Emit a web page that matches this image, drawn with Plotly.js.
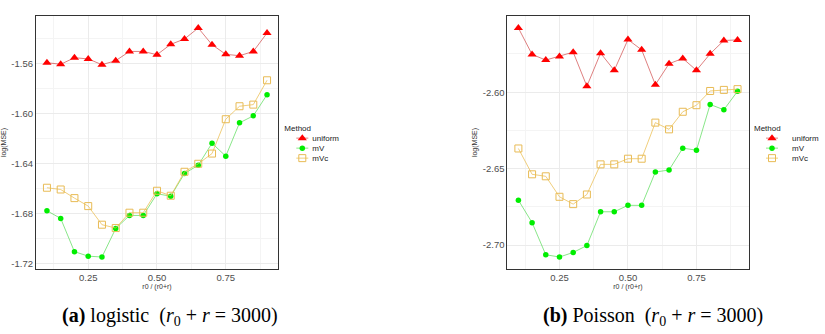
<!DOCTYPE html>
<html>
<head>
<meta charset="utf-8">
<script src="https://cdn.plot.ly/plotly-3.0.1.min.js"></script>
<style>
  body { margin: 0; background: #fff; }
  #plot { width: 825px; height: 334px; }
</style>
</head>
<body>
<div id="plot"></div>
<script>
// ratio r0 / (r0+r)
var ratio = [0.10, 0.15, 0.20, 0.25, 0.30, 0.35, 0.40, 0.45, 0.50, 0.55, 0.60, 0.65, 0.70, 0.75, 0.80, 0.85, 0.90];

// (a) logistic
var logisticUniform = [-1.559, -1.5603, -1.555, -1.556, -1.5606, -1.5574, -1.550, -1.550, -1.5526, -1.5443, -1.540, -1.5312, -1.5446, -1.5523, -1.5534, -1.550, -1.5352];
var logisticMV = [-1.6776, -1.6838, -1.7104, -1.714, -1.7147, -1.6918, -1.6814, -1.6814, -1.664, -1.666, -1.6478, -1.6411, -1.6235, -1.6339, -1.6072, -1.6016, -1.5846];
var logisticMVc = [-1.6592, -1.6606, -1.6675, -1.6739, -1.6888, -1.6915, -1.6792, -1.6792, -1.6616, -1.6656, -1.6464, -1.640, -1.6318, -1.6043, -1.5939, -1.5926, -1.5731];

// (b) Poisson
var poissonUniform = [-2.558, -2.5753, -2.579, -2.5766, -2.5738, -2.5961, -2.5745, -2.5857, -2.5656, -2.5723, -2.5951, -2.5814, -2.5779, -2.5857, -2.5749, -2.5662, -2.5658];
var poissonMV = [-2.6706, -2.6853, -2.7063, -2.7078, -2.7048, -2.7003, -2.6782, -2.6782, -2.674, -2.674, -2.6522, -2.6509, -2.6366, -2.6379, -2.608, -2.6115, -2.5994];
var poissonMVc = [-2.6368, -2.6537, -2.655, -2.6684, -2.6732, -2.6669, -2.6472, -2.6472, -2.6435, -2.6435, -2.6199, -2.6243, -2.6128, -2.6085, -2.5992, -2.5985, -2.598];

var xTicks = [0.25, 0.50, 0.75];
var xTickText = ["0.25", "0.50", "0.75"];
var logisticTicks = [-1.56, -1.60, -1.64, -1.68, -1.72];
var poissonTicks = [-2.60, -2.65, -2.70];

var styles = {
  uniform: {line: "rgba(205,60,60,0.65)", marker: {symbol: "triangle-up", size: 8, color: "#ff0000"}},
  mV: {line: "rgba(40,210,40,0.55)", marker: {symbol: "circle", size: 5.5, color: "#00ee00"}},
  mVc: {line: "rgba(235,190,80,0.75)", marker: {symbol: "square-open", size: 7, color: "#e8bb55", line: {width: 1}}}
};

function makeTrace(name, y, xa, ya, legend) {
  return {
    x: ratio, y: y, name: name, type: "scatter", mode: "lines+markers",
    xaxis: xa, yaxis: ya, legend: legend,
    line: {color: styles[name].line, width: 1},
    marker: styles[name].marker
  };
}

var data = [
  makeTrace("uniform", logisticUniform, "x", "y", "legend"),
  makeTrace("mV", logisticMV, "x", "y", "legend"),
  makeTrace("mVc", logisticMVc, "x", "y", "legend"),
  makeTrace("uniform", poissonUniform, "x2", "y2", "legend2"),
  makeTrace("mV", poissonMV, "x2", "y2", "legend2"),
  makeTrace("mVc", poissonMVc, "x2", "y2", "legend2")
];

var sans = "'Liberation Sans', Arial, sans-serif";
var serif = "'Liberation Serif', 'Times New Roman', serif";
var tickFont = {family: sans, size: 9.5, color: "#4d4d4d"};
var smallFont = {family: sans, size: 7, color: "#333"};

function xAxis(domain, anchor) {
  return {
    domain: domain, anchor: anchor, range: [0.06, 0.94],
    tickvals: xTicks, ticktext: xTickText, tickfont: tickFont,
    ticks: "", showline: true, mirror: true, linecolor: "#333", linewidth: 1,
    gridcolor: "#ebebeb", gridwidth: 1, zeroline: false,
    minor: {tickvals: [0.125, 0.375, 0.625, 0.875], showgrid: true, gridcolor: "#f4f4f4", gridwidth: 1},
    title: {text: "r0 / (r0+r)", font: smallFont, standoff: 1}
  };
}

function yAxis(domain, anchor, range, ticks, minor) {
  return {
    domain: domain, anchor: anchor, range: range,
    tickvals: ticks, ticktext: ticks.map(function (v) { return v.toFixed(2); }), tickfont: tickFont,
    ticks: "", showline: true, mirror: true, linecolor: "#333", linewidth: 1,
    gridcolor: "#ebebeb", gridwidth: 1, zeroline: false,
    minor: {tickvals: minor, showgrid: true, gridcolor: "#f4f4f4", gridwidth: 1},
    title: {text: "log(MSE)", font: smallFont, standoff: 4}
  };
}

var legendBase = {
  title: {text: "Method", font: {family: sans, size: 8, color: "#222"}},
  font: {family: sans, size: 8, color: "#222"},
  xanchor: "left", yanchor: "top", bgcolor: "rgba(0,0,0,0)", tracegroupgap: 0, itemwidth: 30
};

var layout = {
  width: 825, height: 334,
  margin: {l: 0, r: 0, t: 0, b: 0},
  paper_bgcolor: "#fff", plot_bgcolor: "#fff",
  xaxis: xAxis([0.0448, 0.3467], "y"),
  yaxis: yAxis([0.1961, 0.9506], "x", [-1.7239, -1.5220], logisticTicks, [-1.54, -1.58, -1.62, -1.66, -1.70]),
  xaxis2: xAxis([0.6327, 0.9333], "y2"),
  yaxis2: yAxis([0.1961, 0.9506], "x2", [-2.7153, -2.5505], poissonTicks, [-2.575, -2.625, -2.675]),
  legend: Object.assign({x: 0.352, y: 0.64}, legendBase),
  legend2: Object.assign({x: 0.938, y: 0.64}, legendBase),
  annotations: [
    {text: "<b>(a)</b> logistic  (<i>r</i><sub>0</sub> + <i>r</i> = 3000)", xref: "paper", yref: "paper",
     x: 0.2121, y: 0.051, xanchor: "center", yanchor: "middle", showarrow: false,
     font: {family: serif, size: 20, color: "#000"}},
    {text: "<b>(b)</b> Poisson  (<i>r</i><sub>0</sub> + <i>r</i> = 3000)", xref: "paper", yref: "paper",
     x: 0.8144, y: 0.051, xanchor: "center", yanchor: "middle", showarrow: false,
     font: {family: serif, size: 20, color: "#000"}}
  ]
};

Plotly.newPlot("plot", data, layout, {displayModeBar: false, staticPlot: true}).then(function (gd) {
  // tighten legend rows and keys to the ggplot look
  gd.querySelectorAll("g.legend, g.legend2").forEach(function (lg) {
    var items = lg.querySelectorAll(".traces");
    var y0 = null;
    items.forEach(function (t, i) {
      var m = /translate\(\s*([-\d.]+)[ ,]+([-\d.]+)\s*\)/.exec(t.getAttribute("transform") || "");
      if (!m) return;
      if (y0 === null) y0 = parseFloat(m[2]) - 7;
      t.setAttribute("transform", "translate(" + m[1] + "," + (y0 + i * 10) + ")");
      t.querySelectorAll(".legendlines path").forEach(function (p) { p.setAttribute("d", "M14,0h12"); });
      var txt = t.querySelector(".legendtext");
      if (txt) txt.setAttribute("x", 30);
    });
  });
});
</script>
</body>
</html>
